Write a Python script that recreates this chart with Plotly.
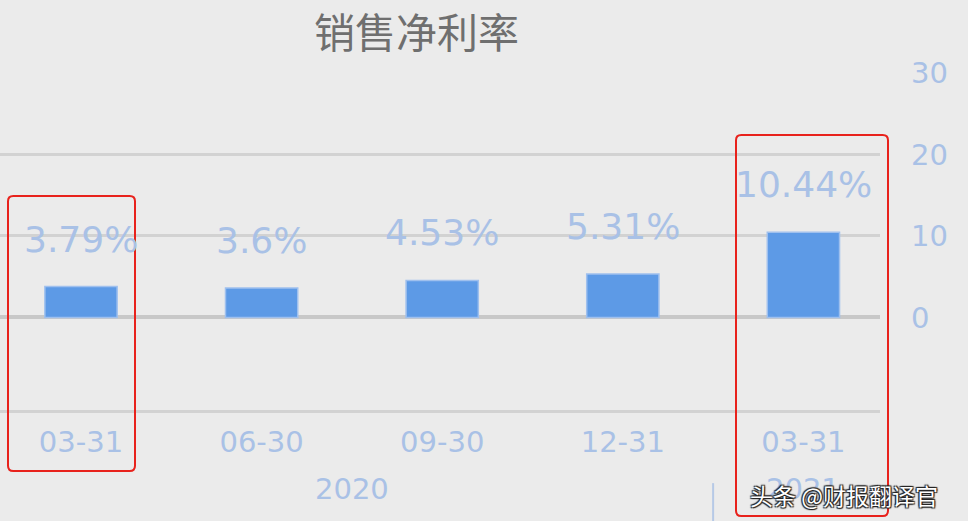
import plotly.graph_objects as go

# data
periods = ["03-31", "06-30", "09-30", "12-31", "03-31"]
years = ["2020", "2020", "2020", "2020", "2021"]
net_margin = [3.79, 3.6, 4.53, 5.31, 10.44]
labels = ["3.79%", "3.6%", "4.53%", "5.31%", "10.44%"]
y_ticks = [0, 10, 20, 30]

W, H = 968, 521
ml, mr, mt, mb = 0, 88, 73, 111
x_range = [-0.4485, 4.424]
y_range = [-11.37, 30]

label_col = "#a9c1e6"
bar_col = "#5d9ae6"
bg = "#ebebeb"

fig = go.Figure()
fig.add_trace(go.Bar(
    x=list(range(len(periods))), y=net_margin, width=0.4,
    marker=dict(color=bar_col, line=dict(color="#9fc0ee", width=1.5)),
    hoverinfo="skip",
))

# value labels, lifted above the bars
for i, (v, t) in enumerate(zip(net_margin, labels)):
    fig.add_annotation(x=i, y=v, text=t, showarrow=False, yanchor="bottom",
                       yshift=25, font=dict(size=36, color=label_col, family="DejaVu Sans"))

# year group labels
groups = {}
for i, yr in enumerate(years):
    groups.setdefault(yr, []).append(i)
for yr, idx in groups.items():
    fig.add_annotation(x=(idx[0] + idx[-1]) / 2, xref="x", y=-0.235, yref="paper",
                       text=yr, showarrow=False, yanchor="middle",
                       font=dict(size=29, color=label_col, family="DejaVu Sans"))

# divider between year groups, converted to paper coords
plot_w = W - ml - mr
ph = H - mt - mb
def to_paper_x(v):
    return (v - x_range[0]) / (x_range[1] - x_range[0])
for i in range(1, len(years)):
    if years[i] != years[i - 1]:
        px = to_paper_x(i - 0.5)
        fig.add_shape(type="line", xref="paper", yref="paper", x0=px, x1=px,
                      y0=-0.217, y1=-0.34, line=dict(color="#b6c9e6", width=2))

# red highlight boxes (decoration, paper coords)
def rounded(x0, y0, x1, y1, r=0.006):
    ry = r * plot_w / ph
    return (f"M {x0+r},{y0} L {x1-r},{y0} Q {x1},{y0} {x1},{y0+ry} "
            f"L {x1},{y1-ry} Q {x1},{y1} {x1-r},{y1} L {x0+r},{y1} "
            f"Q {x0},{y1} {x0},{y1-ry} L {x0},{y0+ry} Q {x0},{y0} {x0+r},{y0} Z")

def py(pix):
    return (H - mb - pix) / ph
boxes = [(8, 196, 135, 471), (736, 135, 888, 516)]
for (x0, y0, x1, y1) in boxes:
    fig.add_shape(type="path", xref="paper", yref="paper",
                  path=rounded((x0 - ml) / plot_w, py(y1), (x1 - ml) / plot_w, py(y0)),
                  line=dict(color="#e8221c", width=2))

# title
fig.add_annotation(x=416 / plot_w, y=1.0, xref="paper", yref="paper", yshift=43,
                   yanchor="middle", text="销售净利率", showarrow=False,
                   font=dict(size=41, color="#6f6f6f", family="Noto Sans CJK SC"))

# watermark
fig.add_annotation(x=1.0, y=-0.252, xref="paper", yref="paper", xanchor="left", xshift=-132,
                   text="头条 @财报翻译官", showarrow=False, yanchor="middle",
                   font=dict(size=23, color="white", family="Noto Sans CJK SC",
                             shadow="1px 1px 1px #222, -1px -1px 1px #222, 1px -1px 1px #222, -1px 1px 1px #222"))

fig.update_layout(
    width=W, height=H,
    margin=dict(l=ml, r=mr, t=mt, b=mb),
    paper_bgcolor=bg, plot_bgcolor=bg,
    showlegend=False,
    xaxis=dict(range=x_range, tickmode="array", tickvals=list(range(len(periods))),
               ticktext=periods, showgrid=False, zeroline=False,
               showline=True, linecolor="#d2d2d2", linewidth=3, ticks="",
               ticklabelstandoff=4,
               tickfont=dict(size=29, color=label_col, family="DejaVu Sans")),
    yaxis=dict(range=y_range, side="right", tickvals=y_ticks, showgrid=True,
               gridcolor="#d2d2d2", gridwidth=3, zeroline=True, zerolinecolor="#c8c8c8",
               zerolinewidth=4, ticklabelstandoff=30,
               tickfont=dict(size=29, color=label_col, family="DejaVu Sans")),
)

fig.write_html("out.html", config={"displayModeBar": False},
               post_script="document.body.style.margin='0';")
